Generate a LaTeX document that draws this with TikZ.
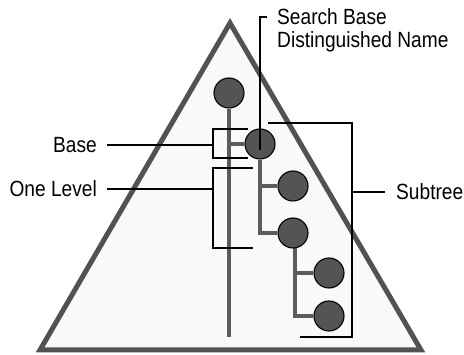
\documentclass[tikz,border=0pt]{standalone}
\usepackage{fontspec}
\setmainfont{Liberation Sans}
\usetikzlibrary{backgrounds}
\definecolor{rimgray}{gray}{0.32}
\definecolor{linkgray}{gray}{0.36}
\definecolor{dotgray}{gray}{0.33}
\newcommand{\narrow}[1]{\scalebox{0.87}[1]{#1}}
\tikzset{%
  treenode/.style={circle, draw=black, line width=1.1pt, fill=dotgray, minimum size=30pt, inner sep=0pt},
  treeedge/.style={draw=linkgray, line width=4.5pt},
  bracket/.style={draw=black, line width=1.6pt},
  lbl/.style={font=\fontsize{22}{23}\selectfont, inner sep=0pt}
}

\begin{document}
\begin{tikzpicture}[x=1pt, y=-1pt]
  \useasboundingbox (0,0) rectangle (464,355);
  \node[treenode] (a) at (229,93) {};
  \node[treenode] (s) at (260,144) {};
  \node[treenode] (c1) at (293,186) {};
  \node[treenode] (c2) at (293,233) {};
  \node[treenode] (g1) at (329,273) {};
  \node[treenode] (g2) at (329,316) {};
  \coordinate (aend) at (229,337);
  \begin{scope}[on background layer]
    \draw[line width=5pt, draw=rimgray, fill=gray!5] (40,350) -- (230,23) -- (421,350) -- cycle;
    \draw[treeedge] (a) -- (aend);
    \draw[treeedge] (s -| a) -- (s);
    \draw[treeedge] (s) |- (c2);
    \draw[treeedge] (s |- c1) -- (c1);
    \draw[treeedge] ([xshift=2pt]c2.center) |- (g2);
    \draw[treeedge] ([xshift=2pt]c2.center |- g1) -- (g1);
  \end{scope}
  \node[lbl, anchor=east] (base) at (97,145) {\narrow{Base}};
  \node[lbl, anchor=east] (one) at (97,189) {\narrow{One Level}};
  \node[lbl, anchor=west] (sub) at (396,192) {\narrow{Subtree}};
  \node[lbl, anchor=north west, align=left] (dn) at (277,8) {\narrow{Search Base}\\\narrow{Distinguished Name}};
  \coordinate (b1) at (248,129);
  \coordinate (b2) at (213,145);
  \coordinate (b3) at (248,158);
  \coordinate (o1) at (253,168);
  \coordinate (o2) at (213,189);
  \coordinate (o3) at (253,248);
  \coordinate (t1) at (268,123);
  \coordinate (t2) at (352,192);
  \coordinate (t3) at (300,337);
  \coordinate (d1) at (267,17);
  \draw[bracket] (b1) -| (b2) |- (b3);
  \draw[bracket] ([xshift=10pt]base.east) -- (b2);
  \draw[bracket] (o1) -| (o2) |- (o3);
  \draw[bracket] ([xshift=10pt]one.east) -- (o2);
  \draw[bracket] (t1) -| (t2) |- (t3);
  \draw[bracket] (t2) -- ([xshift=-11pt]sub.west);
  \draw[bracket] ([yshift=-6pt]s.center) |- (d1);
\end{tikzpicture}
\end{document}
